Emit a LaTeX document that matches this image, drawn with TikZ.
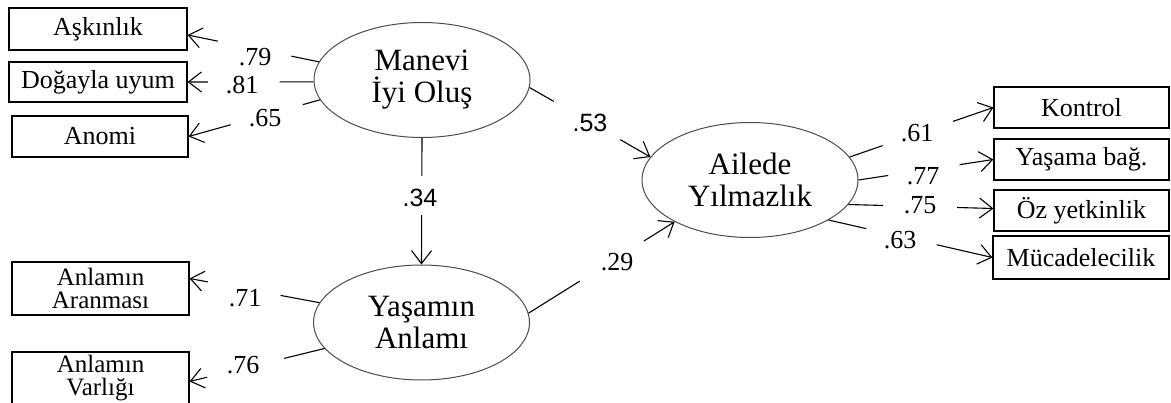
\documentclass[tikz,border=0pt]{standalone}
\usepackage{fontspec}
\setmainfont{Liberation Serif}
\newfontfamily\lsans{Liberation Sans}
\usetikzlibrary{arrows.meta,calc,shapes.geometric}
\newcommand\semconn[4]{%
  \draw[link] (#1) -- ($(#1)!#3!(#2)$);
  \draw[link,arr] ($(#1)!#4!(#2)$) -- (#2);}
\begin{document}
\begin{tikzpicture}[x=1pt,y=-1pt,
  box/.style={draw=black,line width=1.2pt,rectangle,inner sep=0pt,
    minimum width=176pt,minimum height=41pt,align=center,
    font=\fontsize{26}{21}\selectfont},
  twoline/.style={font=\fontsize{25}{23}\selectfont},
  lat/.style={draw=black!70,line width=1pt,ellipse,minimum width=216pt,
    minimum height=115pt,inner sep=0pt,align=center,
    font=\fontsize{31}{32}\selectfont},
  lbl/.style={inner sep=0pt,font=\fontsize{26}{26}\selectfont},
  slbl/.style={inner sep=0pt,font=\lsans\fontsize{25}{25}\selectfont},
  link/.style={line width=1.1pt},
  arr/.style={-{Straight Barb[length=13pt,width=20pt]}}]
\useasboundingbox[fill=white] (0,0) rectangle (1171,403);

% latent variables
\node[lat] (man) at (422,80) {Manevi\\İyi Oluş};
\node[lat] (yas) at (421.5,322.5) {Yaşamın\\Anlamı};
\node[lat] (ail) at (750,180) {Ailede\\Yılmazlık};

% indicators left
\node[box,minimum width=178pt,minimum height=42pt] (ask) at (98,29) {Aşkınlık};
\node[box,minimum width=178pt,minimum height=40pt] (dog) at (98,82) {Doğayla uyum};
\node[box] (ano) at (100,136.5) {Anomi};
\node[box,twoline,minimum width=177pt,minimum height=53pt] (ara) at (100.5,288.5) {Anlamın\\Aranması};
\node[box,twoline,minimum width=177pt,minimum height=53pt] (var) at (100.5,378.5) {Anlamın\\Varlığı};

% indicators right
\node[box,minimum width=175pt] (kon) at (1081.5,107.5) {Kontrol};
\node[box,minimum width=175pt] (bag) at (1081.5,159.5) {Yaşama bağ.};
\node[box,minimum width=175pt] (oz) at (1081.5,210.5) {Öz yetkinlik};
\node[box,minimum width=176pt,minimum height=43pt] (muc) at (1081,257.5) {Mücadelecilik};

\coordinate (askin) at ([yshift=-6pt]ask.east);
\coordinate (arain) at ([yshift=10pt]ara.east);
\coordinate (varin) at ([yshift=-3pt]var.east);
\coordinate (ozin) at ([yshift=2pt]oz.west);

% connectors
\semconn{man.170}{askin}{0.21}{0.77}
\semconn{man.181}{dog.east}{0.27}{0.84}
\semconn{man.191}{ano.east}{0.13}{0.68}
\semconn{man.south}{yas.north}{0.30}{0.61}
\semconn{man.-4}{ail.167}{0.20}{0.75}
\semconn{yas.5}{ail.209}{0.35}{0.79}
\semconn{yas.169}{arain}{0.30}{0.86}
\semconn{yas.195}{varin}{0.30}{0.87}
\semconn{ail.13}{kon.west}{0.23}{0.72}
\semconn{ail.east}{bag.west}{0.22}{0.75}
\semconn{ail.-14}{ozin}{0.24}{0.75}
\semconn{ail.-27.5}{muc.west}{0.23}{0.66}

% labels
\node[lbl] (l79) at (255,57) {.79};
\node[lbl] (l81) at (242,85) {.81};
\node[lbl] (l65) at (265,118) {.65};
\node[slbl] (l34) at (420,198) {.34};
\node[slbl] (l53) at (590,123) {.53};
\node[lbl] (l29) at (617,262) {.29};
\node[lbl] (l71) at (245,298) {.71};
\node[lbl] (l76) at (243,365) {.76};
\node[lbl] (l61) at (917,133) {.61};
\node[lbl] (l77) at (923,176) {.77};
\node[lbl] (l75) at (920,205) {.75};
\node[lbl] (l63) at (900,240) {.63};
\end{tikzpicture}
\end{document}
